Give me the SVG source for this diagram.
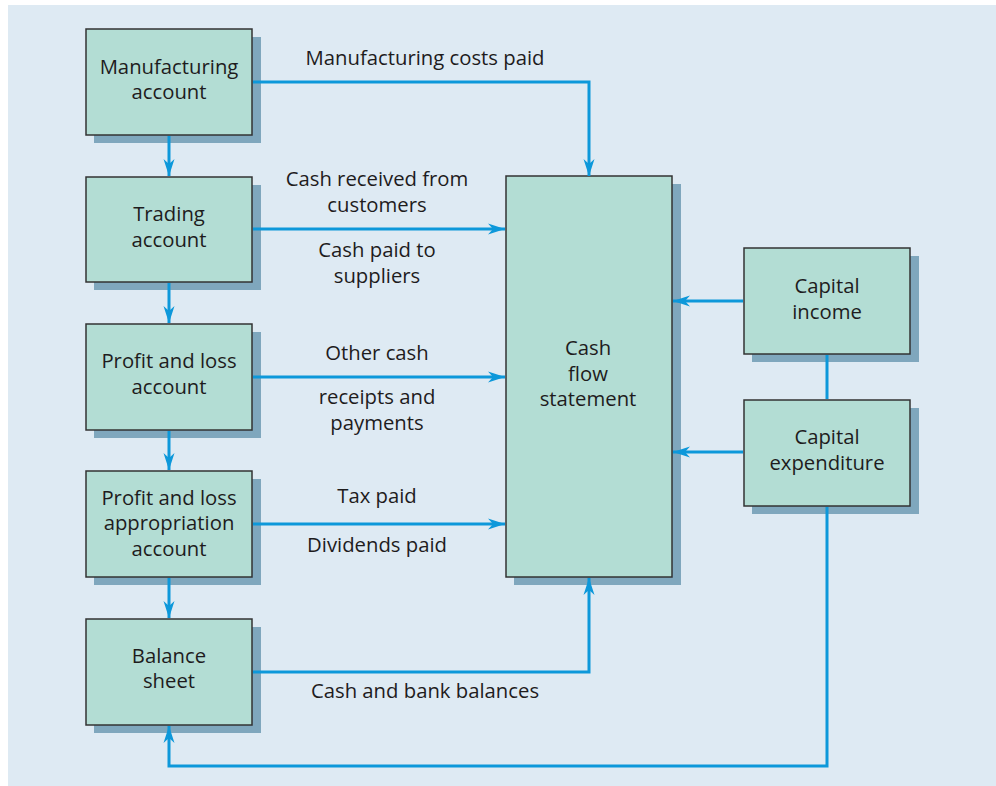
<svg xmlns="http://www.w3.org/2000/svg" width="996" height="786" viewBox="0 0 996 786">
<defs>
<marker id="ah" markerUnits="userSpaceOnUse" markerWidth="20" markerHeight="14" viewBox="0 -7 20 14" refX="17" refY="0" orient="auto">
<path d="M0,-5.5 L17,0 L0,5.5 L5,0 z" fill="#0d98da"/>
</marker>
</defs>
<style>
.shadow{fill:#7fa7bd}
.box{fill:#b3ddd4;stroke:#333333;stroke-width:1.5}
.t{font-family:"Open Sans","Noto Sans","DejaVu Sans",sans-serif;font-size:20.3px;fill:#1e1c1d;text-anchor:middle}
.c{fill:none;stroke:#0d98da;stroke-width:3}
</style>
<rect x="8" y="5" width="988" height="781" fill="#deeaf3"/>
<g id="manufacturing">
<rect class="shadow" x="94" y="37" width="167" height="106"/>
<rect class="box" x="86" y="29" width="166" height="106"/>
<text class="t" x="169" y="74">Manufacturing</text>
<text class="t" x="169" y="99">account</text>
</g>
<g id="trading">
<rect class="shadow" x="94" y="185" width="167" height="105"/>
<rect class="box" x="86" y="177" width="166" height="105"/>
<text class="t" x="169" y="221">Trading</text>
<text class="t" x="169" y="247">account</text>
</g>
<g id="profit-loss">
<rect class="shadow" x="94" y="332" width="167" height="106"/>
<rect class="box" x="86" y="324" width="166" height="106"/>
<text class="t" x="169" y="368">Profit and loss</text>
<text class="t" x="169" y="394">account</text>
</g>
<g id="appropriation">
<rect class="shadow" x="94" y="479" width="167" height="106"/>
<rect class="box" x="86" y="471" width="166" height="106"/>
<text class="t" x="169" y="505">Profit and loss</text>
<text class="t" x="169" y="530">appropriation</text>
<text class="t" x="169" y="556">account</text>
</g>
<g id="balance-sheet">
<rect class="shadow" x="94" y="627" width="167" height="106"/>
<rect class="box" x="86" y="619" width="166" height="106"/>
<text class="t" x="169" y="663">Balance</text>
<text class="t" x="169" y="688">sheet</text>
</g>
<g id="cash-flow">
<rect class="shadow" x="514" y="184" width="167" height="401"/>
<rect class="box" x="506" y="176" width="166" height="401"/>
<text class="t" x="588" y="355">Cash</text>
<text class="t" x="588" y="381">flow</text>
<text class="t" x="588" y="406">statement</text>
</g>
<g id="capital-income">
<rect class="shadow" x="752" y="256" width="167" height="106"/>
<rect class="box" x="744" y="248" width="166" height="106"/>
<text class="t" x="827" y="293">Capital</text>
<text class="t" x="827" y="319">income</text>
</g>
<g id="capital-expenditure">
<rect class="shadow" x="752" y="408" width="167" height="106"/>
<rect class="box" x="744" y="400" width="166" height="106"/>
<text class="t" x="827" y="444">Capital</text>
<text class="t" x="827" y="470">expenditure</text>
</g>
<g id="connectors">
<path class="c" d="M253,82 H589 V176" marker-end="url(#ah)"/>
<path class="c" d="M253,229 H505" marker-end="url(#ah)"/>
<path class="c" d="M253,377 H505" marker-end="url(#ah)"/>
<path class="c" d="M253,524 H505" marker-end="url(#ah)"/>
<path class="c" d="M253,672 H589 V578" marker-end="url(#ah)"/>
<path class="c" d="M743,301 H673" marker-end="url(#ah)"/>
<path class="c" d="M743,452 H673" marker-end="url(#ah)"/>
<path class="c" d="M827,355 V399"/>
<path class="c" d="M827,507 V766 H169 V726" marker-end="url(#ah)"/>
<path class="c" d="M169,136 V176" marker-end="url(#ah)"/>
<path class="c" d="M169,283 V323" marker-end="url(#ah)"/>
<path class="c" d="M169,431 V470" marker-end="url(#ah)"/>
<path class="c" d="M169,578 V618" marker-end="url(#ah)"/>
</g>
<g id="labels">
<text class="t" x="425" y="65">Manufacturing costs paid</text>
<text class="t" x="377" y="186">Cash received from</text>
<text class="t" x="377" y="212">customers</text>
<text class="t" x="377" y="257">Cash paid to</text>
<text class="t" x="377" y="283">suppliers</text>
<text class="t" x="377" y="360">Other cash</text>
<text class="t" x="377" y="404">receipts and</text>
<text class="t" x="377" y="430">payments</text>
<text class="t" x="377" y="503">Tax paid</text>
<text class="t" x="377" y="552">Dividends paid</text>
<text class="t" x="425" y="698">Cash and bank balances</text>
</g>
</svg>
